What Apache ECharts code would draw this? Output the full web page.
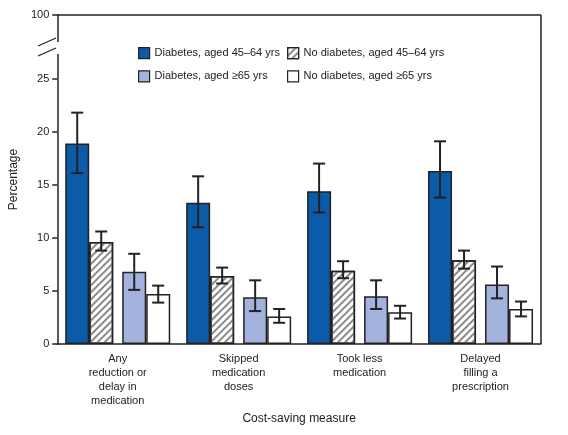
<!DOCTYPE html><html><head><meta charset="utf-8"><script src="https://cdn.jsdelivr.net/npm/echarts@6/dist/echarts.min.js"></script>
<style>html,body{margin:0;padding:0;background:#fff}#c{width:568px;height:435px}</style></head><body><div id="c"></div>
<script>
var categories=['Any\nreduction or\ndelay in\nmedication','Skipped\nmedication\ndoses','Took less\nmedication','Delayed\nfilling a\nprescription'];
var seriesNames=['Diabetes, aged 45–64 yrs','No diabetes, aged 45–64 yrs','Diabetes, aged ≥65 yrs','No diabetes, aged ≥65 yrs'];
var diab4564=[18.9,13.3,14.4,16.3];
var nodiab4564=[9.6,6.4,6.9,7.9];
var diab65=[6.8,4.4,4.5,5.6];
var nodiab65=[4.7,2.6,3.0,3.3];
var ciLow=[[16.1,11.0,12.4,13.8],[8.8,5.7,6.2,7.1],[5.1,3.1,3.3,4.3],[3.9,2.0,2.4,2.6]];
var ciHigh=[[21.8,15.8,17.0,19.1],[10.6,7.2,7.8,8.8],[8.5,6.0,6.0,7.3],[5.5,3.3,3.6,4.0]];
var yTickLabels=[0,5,10,15,20,25];
var font='Liberation Sans';
var offsets=[-40.5,-16.5,16.5,40.5];
var errData=[];
for(var s=0;s<4;s++)for(var i=0;i<4;i++)errData.push([i,ciLow[s][i],ciHigh[s][i],s]);
var bs={borderColor:'#222',borderWidth:1.5};
var lg={orient:'vertical',top:42,itemWidth:11,itemHeight:11,itemGap:11,icon:'rect',textStyle:{fontSize:11,color:'#222',fontFamily:font},itemStyle:{borderColor:'#222',borderWidth:1.2}};
var chart=echarts.init(document.getElementById('c'));
chart.setOption({
 animation:false,
 textStyle:{fontFamily:font},
 grid:{left:57,right:27,top:15,bottom:91},
 legend:[Object.assign({data:[seriesNames[0],seriesNames[2]],left:133},lg),
         Object.assign({data:[seriesNames[1],seriesNames[3]],left:282},lg)],
 xAxis:{type:'category',data:categories,axisTick:{show:false},axisLine:{lineStyle:{color:'#222',width:1.5}},
   axisLabel:{fontSize:11,color:'#222',lineHeight:14,margin:8,interval:0},
   name:'Cost-saving measure',nameLocation:'middle',nameGap:62,nameTextStyle:{fontSize:12,color:'#222'}},
 yAxis:{type:'value',min:0,max:31,interval:1,splitLine:{show:false},
   axisLine:{show:true,lineStyle:{color:'#222',width:1.5}},
   axisTick:{show:true,length:5,customValues:yTickLabels.concat([31]),lineStyle:{color:'#222',width:1.5}},
   axisLabel:{fontSize:11,color:'#222',customValues:yTickLabels.concat([31]),formatter:function(v){return v===31?'100':String(v);}},
   name:'Percentage',nameLocation:'middle',nameGap:34,nameTextStyle:{fontSize:12,color:'#222'}},
 series:[
  {name:seriesNames[0],type:'bar',data:diab4564,barWidth:24,barGap:'0%',itemStyle:Object.assign({color:'#0b5ba8'},bs)},
  {name:seriesNames[1],type:'bar',data:nodiab4564,barWidth:24,itemStyle:Object.assign({color:'#fff',decal:{symbol:'rect',symbolSize:1,dashArrayX:[1,0],dashArrayY:[1.5,3],rotation:-Math.PI/4,color:'#8a8a8a'}},bs)},
  {type:'bar',data:[null,null,null,null],barWidth:9},
  {name:seriesNames[2],type:'bar',data:diab65,barWidth:24,itemStyle:Object.assign({color:'#a3b3de'},bs)},
  {name:seriesNames[3],type:'bar',data:nodiab65,barWidth:24,itemStyle:Object.assign({color:'#fff'},bs)},
  {type:'custom',data:errData,z:10,renderItem:function(p,api){
     var i=api.value(0),s=api.value(3);
     var lo=api.coord([i,api.value(1)]),hi=api.coord([i,api.value(2)]);
     var x=lo[0]+offsets[s],w=6;
     var st={stroke:'#222',lineWidth:2};
     return {type:'group',children:[
       {type:'line',shape:{x1:x,y1:lo[1],x2:x,y2:hi[1]},style:st},
       {type:'line',shape:{x1:x-w,y1:lo[1],x2:x+w,y2:lo[1]},style:st},
       {type:'line',shape:{x1:x-w,y1:hi[1],x2:x+w,y2:hi[1]},style:st}]};
  }}
 ],
 graphic:[
  {type:'rect',shape:{x:52,y:42,width:10,height:12},style:{fill:'#fff'},z:100},
  {type:'line',shape:{x1:38,y1:46,x2:56,y2:38},style:{stroke:'#222',lineWidth:1.3},z:101},
  {type:'line',shape:{x1:38,y1:56,x2:56,y2:48},style:{stroke:'#222',lineWidth:1.3},z:101},
  {type:'line',shape:{x1:57,y1:15,x2:541,y2:15},style:{stroke:'#222',lineWidth:1.5},z:101},
  {type:'line',shape:{x1:541,y1:15,x2:541,y2:344},style:{stroke:'#222',lineWidth:1.5},z:101}
 ]
});
</script></body></html>
